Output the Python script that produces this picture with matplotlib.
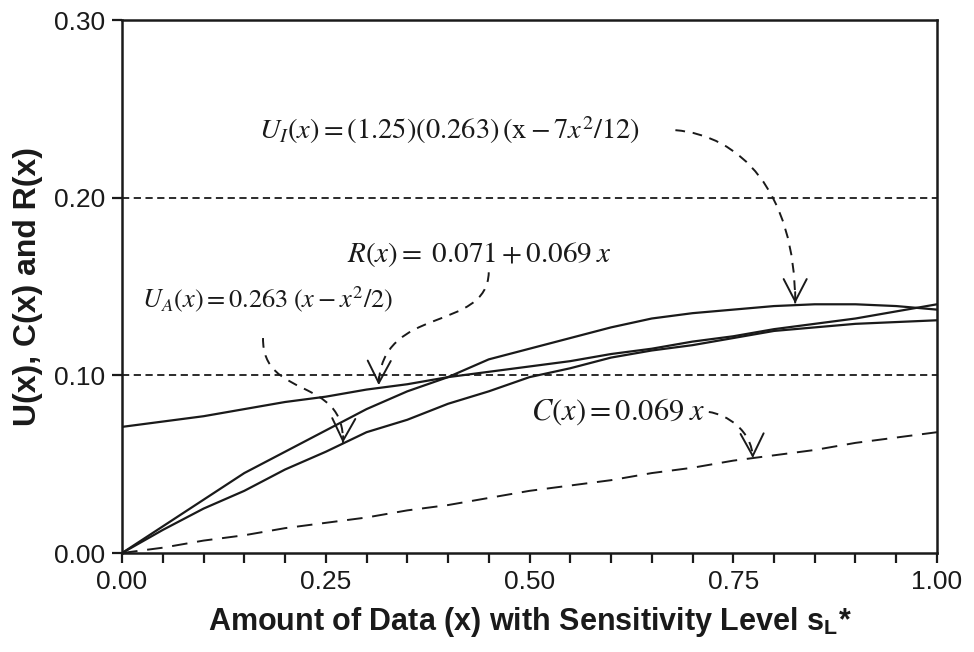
import matplotlib.pyplot as plt
from matplotlib.path import Path
from matplotlib.patches import PathPatch
from matplotlib.ticker import MultipleLocator, FixedLocator

# values
x_vals = [0.00, 0.05, 0.10, 0.15, 0.20, 0.25, 0.30, 0.35, 0.40, 0.45, 0.50,
          0.55, 0.60, 0.65, 0.70, 0.75, 0.80, 0.85, 0.90, 0.95, 1.00]
u_i = [0.000, 0.015, 0.030, 0.045, 0.057, 0.069, 0.081, 0.091, 0.099, 0.109, 0.115,
       0.121, 0.127, 0.132, 0.135, 0.137, 0.139, 0.140, 0.140, 0.139, 0.137]
u_a = [0.000, 0.013, 0.025, 0.035, 0.047, 0.057, 0.068, 0.075, 0.084, 0.091, 0.099,
       0.104, 0.110, 0.114, 0.117, 0.121, 0.125, 0.127, 0.129, 0.130, 0.131]
r_x = [0.071, 0.074, 0.077, 0.081, 0.085, 0.088, 0.092, 0.095, 0.099, 0.102, 0.105,
       0.108, 0.112, 0.115, 0.119, 0.122, 0.126, 0.129, 0.132, 0.136, 0.140]
c_x = [0.000, 0.003, 0.007, 0.010, 0.014, 0.017, 0.020, 0.024, 0.027, 0.031, 0.035,
       0.038, 0.041, 0.045, 0.048, 0.052, 0.055, 0.058, 0.062, 0.065, 0.068]
ref_levels = [0.10, 0.20]

x_labels = ["0.00", "0.25", "0.50", "0.75", "1.00"]
y_labels = ["0.00", "0.10", "0.20", "0.30"]

plt.rcParams["font.family"] = ["Liberation Sans", "DejaVu Sans"]
plt.rcParams["mathtext.fontset"] = "stix"

fig = plt.figure(figsize=(9.74, 6.52), dpi=100)
ax = fig.add_axes([0.1253, 0.1518, 0.8367, 0.8175])

ink = "#1a1a1a"
for lvl in ref_levels:
    ax.axhline(lvl, color=ink, lw=1.3, dashes=(4, 2.5))

ax.plot(x_vals, u_i, color=ink, lw=1.6)
ax.plot(x_vals, u_a, color=ink, lw=1.6)
ax.plot(x_vals, r_x, color=ink, lw=1.6)
ax.plot(x_vals, c_x, color=ink, lw=1.4, dashes=(8, 5))

ax.set_xlim(0, 1)
ax.set_ylim(0, 0.30)
ax.xaxis.set_major_locator(FixedLocator([float(t) for t in x_labels]))
ax.set_xticklabels(x_labels)
ax.xaxis.set_minor_locator(MultipleLocator(0.05))
ax.yaxis.set_major_locator(FixedLocator([float(t) for t in y_labels]))
ax.set_yticklabels(y_labels)
ax.tick_params(which="both", direction="out", length=7, width=1.6, color=ink)
ax.tick_params(axis="both", labelsize=19, colors=ink, pad=5)
for s in ax.spines.values():
    s.set_linewidth(1.8)
    s.set_color(ink)

ax.set_xlabel(r"Amount of Data (x) with Sensitivity Level s$_\mathregular{L}$*",
              fontsize=22, fontweight="bold", color=ink, labelpad=8)
ax.set_ylabel("U(x), C(x) and R(x)", fontsize=23, fontweight="bold", color=ink,
              labelpad=8)


def curved_arrow(p0, c1, c2, p1):
    # dashed bezier leader with a solid open arrowhead at the end
    path = Path([p0, c1, c2, p1], [Path.MOVETO, Path.CURVE4, Path.CURVE4, Path.CURVE4])
    ax.add_patch(PathPatch(path, fill=False, edgecolor=ink, lw=1.4,
                           linestyle=(0, (5, 4))))
    ax.annotate("", xy=p1, xytext=(c2[0] + 0.9 * (p1[0] - c2[0]),
                                   c2[1] + 0.9 * (p1[1] - c2[1])),
                arrowprops=dict(arrowstyle="->,head_length=1.6,head_width=0.83",
                                mutation_scale=10, color=ink, lw=1.4,
                                shrinkA=0, shrinkB=0))


ax.text(0.402, 0.238, r"$U_I(x) = (1.25)(0.263)\,(\mathrm{x} - 7x^2/12)$",
        fontsize=20.5, ha="center", va="center", color=ink)
curved_arrow((0.679, 0.238), (0.758, 0.235), (0.826, 0.204), (0.826, 0.1405))

ax.text(0.439, 0.168, r"$R(x) = \;0.071 + 0.069\;x$",
        fontsize=21, ha="center", va="center", color=ink)
curved_arrow((0.450, 0.158), (0.448, 0.124), (0.317, 0.140), (0.315, 0.0945))

ax.text(0.178, 0.143, r"$U_A(x) = 0.263\;(x - x^2/2)$",
        fontsize=19, ha="center", va="center", color=ink)
curved_arrow((0.173, 0.121), (0.172, 0.086), (0.274, 0.100), (0.271, 0.062))

ax.text(0.609, 0.0795, r"$C(x) = 0.069\; x$",
        fontsize=22, ha="center", va="center", color=ink)
curved_arrow((0.720, 0.0794), (0.742, 0.078), (0.773, 0.069), (0.774, 0.0535))

fig.savefig("out.png", dpi=100)
